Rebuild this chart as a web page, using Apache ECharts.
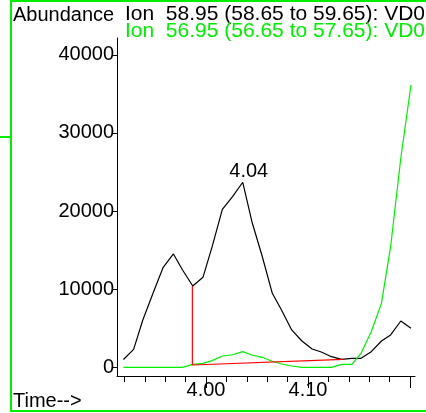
<html lang="en">
  <head>
    <meta charset="UTF-8" />
    <title>Ion chromatogram</title>
    <style>
      html, body { margin: 0; padding: 0; background: #fff; }
    </style>
  </head>
  <body>
    <div id="main" style="width: 426px; height: 413px"></div>

    <script src="https://cdn.jsdelivr.net/npm/echarts@6/dist/echarts.min.js"></script>
    <script>
      // retention time (min)
      let times = [3.919, 3.929, 3.938, 3.948, 3.958, 3.968, 3.977, 3.987, 3.997, 4.006,
        4.016, 4.026, 4.036, 4.045, 4.055, 4.065, 4.074, 4.084, 4.094, 4.104,
        4.113, 4.123, 4.133, 4.143, 4.152, 4.162, 4.172, 4.181, 4.191, 4.201]
      // Ion 58.95
      let ion1 = [1000, 2300, 6060, 9470, 12800, 14510, 12460, 10410, 11520, 15440,
        20230, 21840, 23690, 18640, 14250, 9470, 7340, 4780, 3370, 2340,
        1960, 1360, 1020, 1150, 1150, 2000, 3370, 4140, 5930, 4990]
      // Ion 56.95
      let ion2 = [0, 0, 0, 0, 0, 0, 0, 380, 510, 850,
        1450, 1610, 2000, 1570, 1280, 770, 420, 170, 0, 0,
        0, 0, 380, 380, 1790, 4560, 8190, 15440, 26800, 36150]
      // integration baseline (drop line + baseline)
      let baseTimes = [3.9866, 3.9866, 4.1343]
      let baseValues = [10410, 294, 1024]

      let peakLabel = '4.04'
      let title1 = 'Ion  58.95 (58.65 to 59.65): VD0'
      let title2 = 'Ion  56.95 (56.65 to 57.65): VD0'

      // axis ranges
      let xMin = 3.9127, xMax = 4.2049
      let yMin = -1114, yMax = 42160

      let font = 'Liberation Sans, Arial, sans-serif'
      let green = '#00ee00'

      // plot area in px
      let plotL = 117, plotR = 415, plotT = 38, plotB = 376
      let W = 426, H = 413
      let px = (t) => plotL + (t - xMin) / (xMax - xMin) * (plotR - plotL)
      let py = (v) => plotB - (v - yMin) / (yMax - yMin) * (plotB - plotT)

      let pairs = (xs, ys) => xs.map((x, i) => [x, ys[i]])

      // axis line kept for tick drawing but invisible
      let hiddenLine = { show: true, onZero: false, lineStyle: { color: 'rgba(0,0,0,0)' } }

      let myChart = echarts.init(document.getElementById('main'))
      let option = {
        animation: false,
        textStyle: { fontFamily: font },
        grid: [
          // main plot
          { left: plotL, right: W - plotR, top: plotT, bottom: H - plotB },
          // minor x ticks 3.92 .. 4.20
          { left: px(3.92), right: W - px(4.20), top: plotT, bottom: H - plotB },
          // major x ticks / labels 4.00 .. 4.20
          { left: px(4.00), right: W - px(4.20), top: plotT, bottom: H - plotB },
          // y ticks / labels 0 .. 40000
          { left: plotL, right: W - plotR, top: py(40000), bottom: H - py(0) }
        ],
        xAxis: [
          {
            gridIndex: 0, type: 'value', min: xMin, max: xMax,
            axisLine: { show: true, onZero: false, lineStyle: { color: '#000', width: 1 } },
            axisTick: { show: false }, axisLabel: { show: false }, splitLine: { show: false }
          },
          {
            gridIndex: 1, type: 'value', min: 3.92, max: 4.20, interval: 0.02,
            axisLine: hiddenLine,
            axisTick: { show: true, length: 6, lineStyle: { color: '#000', width: 1 } },
            axisLabel: { show: false }, splitLine: { show: false }
          },
          {
            gridIndex: 2, type: 'value', min: 4.00, max: 4.20, interval: 0.1,
            axisLine: hiddenLine,
            axisTick: { show: true, length: 12, lineStyle: { color: '#000', width: 1 } },
            axisLabel: {
              show: true,
              formatter: (v) => (v > 4.15 ? '' : v.toFixed(2)),
              color: '#000', fontSize: 20, fontFamily: font, margin: 4
            },
            splitLine: { show: false }
          },
          {
            gridIndex: 3, type: 'value', min: xMin, max: xMax, show: false
          }
        ],
        yAxis: [
          {
            gridIndex: 0, type: 'value', min: yMin, max: yMax,
            axisLine: { show: true, onZero: false, lineStyle: { color: '#000', width: 1 } },
            axisTick: { show: false }, axisLabel: { show: false }, splitLine: { show: false }
          },
          { gridIndex: 1, type: 'value', min: yMin, max: yMax, show: false },
          { gridIndex: 2, type: 'value', min: yMin, max: yMax, show: false },
          {
            gridIndex: 3, type: 'value', min: 0, max: 40000, interval: 10000,
            axisLine: hiddenLine,
            axisTick: { show: true, length: 4, lineStyle: { color: '#000', width: 1 } },
            axisLabel: { show: true, formatter: (v) => String(v), color: '#000', fontSize: 20, fontFamily: font, margin: 3 },
            splitLine: { show: false }
          }
        ],
        graphic: [
          {
            type: 'rect',
            shape: { x: 11, y: 1, width: 430, height: 410 },
            style: { fill: 'none', stroke: green, lineWidth: 2 }
          },
          {
            type: 'line',
            shape: { x1: 0, y1: 137, x2: 10, y2: 137 },
            style: { stroke: green, lineWidth: 2 }
          },
          {
            type: 'text', left: 13, top: 5,
            style: { text: 'Abundance', fill: '#000', font: '20px ' + font }
          },
          {
            type: 'text', left: 125, top: 4,
            style: { text: title1, fill: '#000', font: '21px ' + font }
          },
          {
            type: 'text', left: 125, top: 21,
            style: { text: title2, fill: green, font: '21px ' + font }
          },
          {
            type: 'text', left: 13, top: 391,
            style: { text: 'Time-->', fill: '#000', font: '20px ' + font }
          }
        ],
        series: [
          {
            type: 'line',
            data: pairs(times, ion1),
            showSymbol: false,
            lineStyle: { color: '#000', width: 1.2 },
            markPoint: {
              symbol: 'circle',
              symbolSize: 0,
              data: [{ type: 'max' }],
              label: {
                show: true,
                position: 'top',
                distance: 1,
                offset: [6, 0],
                formatter: peakLabel,
                color: '#000',
                fontSize: 20,
                fontFamily: font
              }
            }
          },
          {
            type: 'line',
            data: pairs(times, ion2),
            showSymbol: false,
            lineStyle: { color: green, width: 1.2 }
          },
          {
            type: 'line',
            data: pairs(baseTimes, baseValues),
            showSymbol: false,
            lineStyle: { color: '#ff0000', width: 1.2 }
          }
        ]
      }
      myChart.setOption(option)
    </script>
  </body>
</html>
